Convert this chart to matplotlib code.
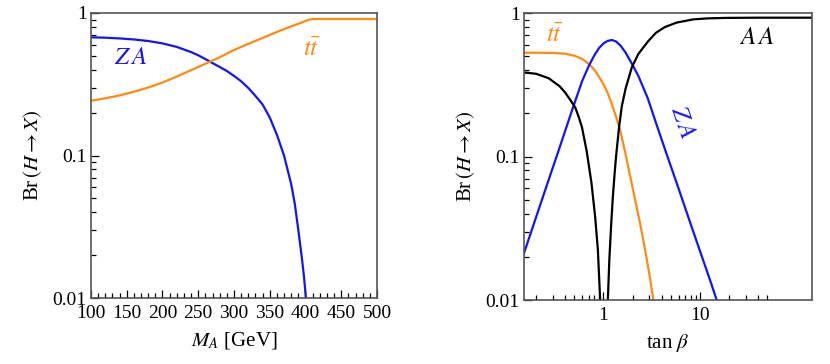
import numpy as np
import matplotlib
matplotlib.use("Agg")
import matplotlib.pyplot as plt
from matplotlib.ticker import FixedLocator, NullFormatter, FixedFormatter

plt.rcParams['font.family'] = ['Liberation Serif', 'DejaVu Serif']
plt.rcParams['mathtext.fontset'] = 'stix'

# ---- Left panel data: Br vs M_A ----
ma_za = [100, 120, 140, 160, 180, 200, 220, 240, 250, 260, 270, 280, 290, 300, 310, 320,
         330, 340, 350, 360, 370, 380, 385, 390, 395, 398, 401, 403]
br_za = [0.675, 0.671, 0.663, 0.652, 0.636, 0.612, 0.578, 0.532, 0.505, 0.475, 0.445, 0.418,
         0.392, 0.362, 0.332, 0.298, 0.262, 0.228, 0.185, 0.140, 0.100, 0.063, 0.046, 0.030,
         0.019, 0.014, 0.0095, 0.005]
ma_tt = [100, 120, 140, 160, 180, 200, 220, 240, 260, 280, 300, 320, 340, 360, 380, 395,
         400, 405, 410, 415, 500]
br_tt = [0.242, 0.252, 0.264, 0.280, 0.300, 0.325, 0.358, 0.397, 0.440, 0.489, 0.550, 0.607,
         0.668, 0.736, 0.805, 0.859, 0.879, 0.898, 0.906, 0.908, 0.908]

# ---- Right panel data: Br vs tan beta ----
tb_tt = [0.15, 0.2, 0.3, 0.4, 0.5, 0.6, 0.7, 0.8, 0.9, 1.0, 1.1, 1.2, 1.35, 1.5, 1.7, 1.9,
         2.13, 2.4, 2.7, 3.0, 3.29, 3.5]
bt_tt = [0.530, 0.530, 0.528, 0.522, 0.505, 0.480, 0.445, 0.405, 0.360, 0.320, 0.280, 0.240,
         0.190, 0.150, 0.103, 0.072, 0.050, 0.034, 0.0224, 0.015, 0.010, 0.0078]
tb_za = [0.15, 0.2, 0.26, 0.35, 0.48, 0.6, 0.7, 0.8, 0.9, 1.0, 1.1, 1.22, 1.35, 1.5, 1.7,
         1.95, 2.3, 2.88, 3.5, 4.35, 6.0, 8.0, 10.0, 13.0, 14.9, 16.0]
bt_za = [0.0212, 0.0377, 0.0637, 0.115, 0.217, 0.335, 0.425, 0.505, 0.572, 0.615, 0.640,
         0.650, 0.635, 0.595, 0.530, 0.450, 0.365, 0.255, 0.172, 0.112, 0.060, 0.034, 0.022,
         0.0132, 0.0100, 0.0087]
tb_aa1 = [0.15, 0.2, 0.27, 0.35, 0.40, 0.45, 0.51, 0.56, 0.60, 0.67, 0.75, 0.82, 0.875,
          0.924, 0.95]
bt_aa1 = [0.386, 0.378, 0.352, 0.310, 0.280, 0.250, 0.220, 0.185, 0.159, 0.109, 0.066,
          0.038, 0.0224, 0.010, 0.0055]
tb_aa2 = [1.08, 1.11, 1.15, 1.2, 1.25, 1.3, 1.35, 1.45, 1.55, 1.7, 1.97, 2.3, 2.92, 3.5,
          4.33, 5.74, 8.5, 12.0, 18.9, 40.0, 145.0]
bt_aa2 = [0.0055, 0.010, 0.019, 0.033, 0.052, 0.074, 0.100, 0.160, 0.225, 0.300, 0.420,
          0.520, 0.640, 0.730, 0.800, 0.860, 0.905, 0.920, 0.927, 0.930, 0.930]

BLUE = '#1414f5'
ORANGE = '#ff8a14'
FRAME = '#555555'
LW = 1.6

fig = plt.figure(figsize=(8.3, 3.64), dpi=100)
ax1 = fig.add_axes([0.1096, 0.1813, 0.3446, 0.783])
ax2 = fig.add_axes([0.6313, 0.1758, 0.347, 0.788])

def style(ax):
    ax.set_yscale('log')
    ax.set_ylim(0.01, 1)
    for s in ax.spines.values():
        s.set_color(FRAME)
        s.set_linewidth(1.2)
    ax.tick_params(which='both', direction='in', top=False, right=False,
                   color='black', labelsize=14)
    ax.tick_params(axis='x', pad=5)
    ax.tick_params(axis='y', pad=3)
    ax.tick_params(which='major', length=6, width=0.9)
    ax.tick_params(which='minor', length=3.5, width=0.9)
    ax.yaxis.set_major_locator(FixedLocator([0.01, 0.1, 1]))
    ax.yaxis.set_major_formatter(FixedFormatter(['0.01', '0.1', '1']))
    minors = [m * 10.0**e for e in (-2, -1) for m in range(2, 10)]
    ax.yaxis.set_minor_locator(FixedLocator(minors))
    ax.yaxis.set_minor_formatter(NullFormatter())
    ax.set_ylabel(r'Br$\,(H \to X)$', fontsize=15, labelpad=6)

style(ax1)
ax1.plot(ma_za, br_za, color=BLUE, lw=LW)
ax1.plot(ma_tt, br_tt, color=ORANGE, lw=LW)
ax1.set_xlim(100, 500)
ax1.xaxis.set_major_locator(FixedLocator(list(range(100, 501, 50))))
ax1.xaxis.set_minor_locator(FixedLocator(list(range(100, 501, 10))))
ax1.set_xlabel(r'$M_A$ [GeV]', fontsize=15, labelpad=6)
ax1.text(0.137, 0.842, r'$Z\,A$', transform=ax1.transAxes, color=BLUE, fontsize=18,
         ha='center', va='center')
ax1.text(0.772, 0.87, r'$t\bar{t}$', transform=ax1.transAxes, color=ORANGE, fontsize=18,
         ha='center', va='center')

style(ax2)
ax2.set_xscale('log')
ax2.plot(tb_tt, bt_tt, color=ORANGE, lw=LW)
ax2.plot(tb_za, bt_za, color=BLUE, lw=LW)
ax2.plot(tb_aa1, bt_aa1, color='black', lw=LW)
ax2.plot(tb_aa2, bt_aa2, color='black', lw=LW)
ax2.set_xlim(0.15, 145)
ax2.xaxis.set_major_locator(FixedLocator([1, 10]))
ax2.xaxis.set_major_formatter(FixedFormatter(['1', '10']))
xmin = [0.2, 0.3, 0.4, 0.5, 0.6, 0.7, 0.8, 0.9, 2, 3, 4, 5, 6, 7, 8, 9, 20, 30, 40, 50]
ax2.xaxis.set_minor_locator(FixedLocator(xmin))
ax2.xaxis.set_minor_formatter(NullFormatter())
ax2.set_xlabel(r'tan $\beta$', fontsize=15, labelpad=6)
ax2.text(0.107, 0.92, r'$t\bar{t}$', transform=ax2.transAxes, color=ORANGE, fontsize=18,
         ha='center', va='center')
ax2.text(0.808, 0.915, r'$A\,A$', transform=ax2.transAxes, color='black', fontsize=18,
         ha='center', va='center')
ax2.text(0.549, 0.621, r'$Z\,A$', transform=ax2.transAxes, color=BLUE, fontsize=18,
         ha='center', va='center', rotation=-71)

fig.savefig('out.png', dpi=100)
